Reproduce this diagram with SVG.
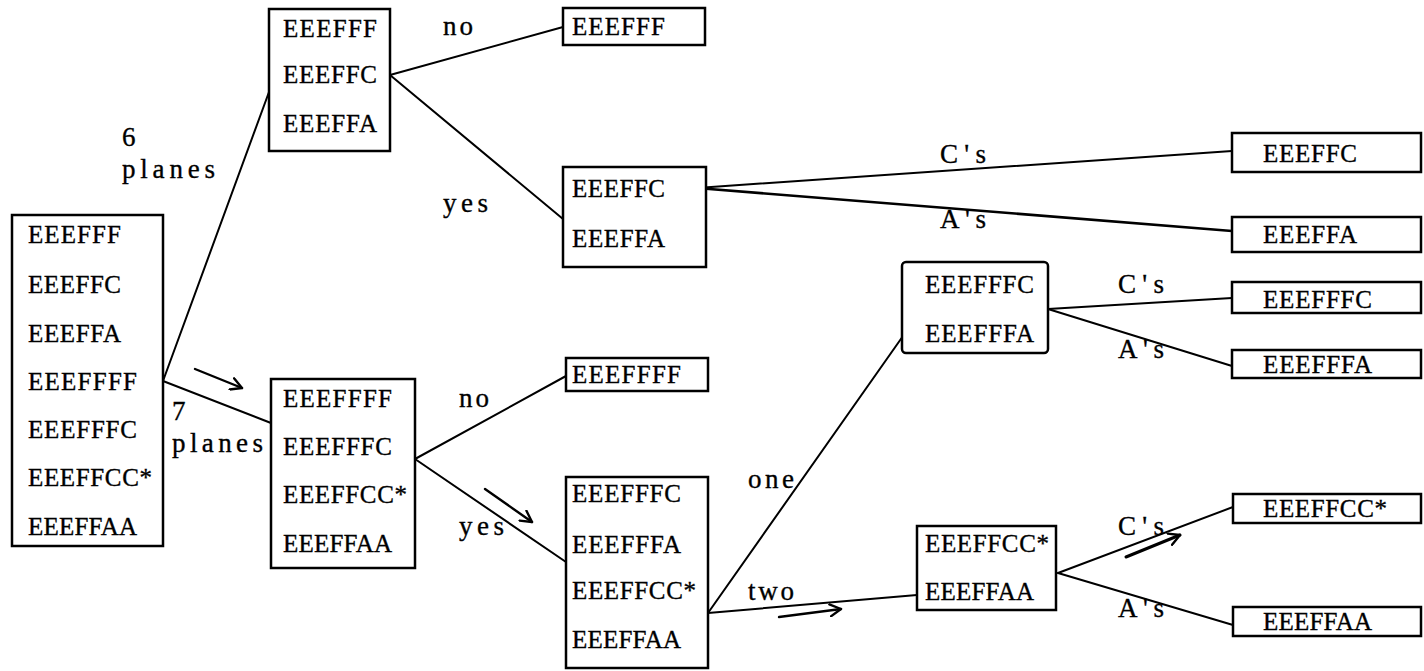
<svg xmlns="http://www.w3.org/2000/svg" width="1424" height="671" viewBox="0 0 1424 671">
  <style>
    .box { fill: #fff; stroke: #000; stroke-width: 2.5; }
    .t { font-family: "Liberation Serif", "Times New Roman", serif; font-size: 25px; fill: #000; stroke: #000; stroke-width: 0.35; }
    .lbl { font-size: 27px; }
    .edge { stroke: #000; stroke-width: 2; fill: none; stroke-linecap: round; }
    .flow { stroke: #000; stroke-width: 2.4; fill: none; stroke-linecap: round; stroke-linejoin: round; }
  </style>
  <defs>
    <marker id="vhead" viewBox="0 0 14 14" refX="12" refY="7" markerWidth="14" markerHeight="14" markerUnits="userSpaceOnUse" orient="auto">
      <path d="M1 1 L12 7 L1 13" fill="none" stroke="#000" stroke-width="2.4" stroke-linecap="round" stroke-linejoin="round"/>
    </marker>
  </defs>

  <rect width="1424" height="671" fill="#fff"/>

  <!-- connectors -->
  <g id="connectors">
    <line class="edge" x1="163" y1="381" x2="269" y2="92"/>
    <line class="edge" x1="163" y1="381" x2="271" y2="423"/>
    <line class="edge" x1="390" y1="75" x2="563" y2="27"/>
    <line class="edge" x1="390" y1="75" x2="563" y2="219"/>
    <path class="edge" d="M692 192 Q693 188 697 188 L1232 151"/>
    <line class="edge" x1="697" y1="188" x2="1232" y2="231" style="stroke-width:2.6"/>
    <line class="edge" x1="415" y1="459" x2="566" y2="376"/>
    <line class="edge" x1="415" y1="459" x2="566" y2="562"/>
    <line class="edge" x1="708" y1="613" x2="903" y2="336"/>
    <line class="edge" x1="708" y1="613" x2="917" y2="595"/>
    <line class="edge" x1="1048" y1="309" x2="1232" y2="298"/>
    <line class="edge" x1="1048" y1="309" x2="1232" y2="366"/>
    <line class="edge" x1="1058" y1="573" x2="1233" y2="507"/>
    <line class="edge" x1="1058" y1="573" x2="1233" y2="625"/>

    <!-- direction arrows -->
    <line class="flow" x1="195" y1="369" x2="242" y2="388" marker-end="url(#vhead)"/>
    <line class="flow" x1="485" y1="489" x2="532" y2="522" marker-end="url(#vhead)"/>
    <line class="flow" x1="779" y1="617" x2="841" y2="609" marker-end="url(#vhead)"/>
    <line class="flow" x1="1126" y1="557" x2="1180" y2="535" marker-end="url(#vhead)" style="stroke-width:3"/>

    <!-- branch labels -->
    <text class="t lbl" x="122" y="146">6</text>
    <text class="t lbl" x="122" y="178" textLength="93" lengthAdjust="spacing">planes</text>
    <text class="t lbl" x="172" y="420">7</text>
    <text class="t lbl" x="172" y="452" textLength="91" lengthAdjust="spacing">planes</text>
    <text class="t lbl" x="443" y="35" textLength="30" lengthAdjust="spacing">no</text>
    <text class="t lbl" x="443" y="212" textLength="45" lengthAdjust="spacing">yes</text>
    <text class="t lbl" x="459" y="407" textLength="30" lengthAdjust="spacing">no</text>
    <text class="t lbl" x="459" y="535" textLength="45" lengthAdjust="spacing">yes</text>
    <text class="t lbl" x="940" y="163" textLength="46" lengthAdjust="spacing">C's</text>
    <text class="t lbl" x="940" y="228" textLength="46" lengthAdjust="spacing">A's</text>
    <text class="t lbl" x="1118" y="293" textLength="46" lengthAdjust="spacing">C's</text>
    <text class="t lbl" x="1118" y="358" textLength="46" lengthAdjust="spacing">A's</text>
    <text class="t lbl" x="748" y="488" textLength="46" lengthAdjust="spacing">one</text>
    <text class="t lbl" x="748" y="600" textLength="46" lengthAdjust="spacing">two</text>
    <text class="t lbl" x="1118" y="535" textLength="46" lengthAdjust="spacing">C's</text>
    <text class="t lbl" x="1118" y="617" textLength="46" lengthAdjust="spacing">A's</text>
  </g>

  <!-- nodes -->
  <g id="n-root">
    <rect class="box" x="12" y="215" width="151" height="331"/>
    <text class="t" x="28" y="243" textLength="93" lengthAdjust="spacing">EEEFFF</text>
    <text class="t" x="28" y="293" textLength="93" lengthAdjust="spacing">EEEFFC</text>
    <text class="t" x="28" y="342" textLength="93" lengthAdjust="spacing">EEEFFA</text>
    <text class="t" x="28" y="390" textLength="109" lengthAdjust="spacing">EEEFFFF</text>
    <text class="t" x="28" y="438" textLength="109" lengthAdjust="spacing">EEEFFFC</text>
    <text class="t" x="28" y="486" textLength="124" lengthAdjust="spacing">EEEFFCC*</text>
    <text class="t" x="28" y="535" textLength="109" lengthAdjust="spacing">EEEFFAA</text>
  </g>

  <g id="n-six">
    <rect class="box" x="269" y="9" width="121" height="142"/>
    <text class="t" x="283" y="37" textLength="94" lengthAdjust="spacing">EEEFFF</text>
    <text class="t" x="283" y="83" textLength="94" lengthAdjust="spacing">EEEFFC</text>
    <text class="t" x="283" y="132" textLength="94" lengthAdjust="spacing">EEEFFA</text>
  </g>

  <g id="n-seven">
    <rect class="box" x="271" y="379" width="144" height="189"/>
    <text class="t" x="283" y="407" textLength="109" lengthAdjust="spacing">EEEFFFF</text>
    <text class="t" x="283" y="455" textLength="109" lengthAdjust="spacing">EEEFFFC</text>
    <text class="t" x="283" y="503" textLength="124" lengthAdjust="spacing">EEEFFCC*</text>
    <text class="t" x="283" y="552" textLength="109" lengthAdjust="spacing">EEEFFAA</text>
  </g>

  <g id="n-six-no">
    <rect class="box" x="563" y="8" width="142" height="37"/>
    <text class="t" x="572" y="35" textLength="93" lengthAdjust="spacing">EEEFFF</text>
  </g>

  <g id="n-six-yes">
    <rect class="box" x="563" y="167" width="143" height="100"/>
    <text class="t" x="572" y="197" textLength="93" lengthAdjust="spacing">EEEFFC</text>
    <text class="t" x="572" y="247" textLength="93" lengthAdjust="spacing">EEEFFA</text>
  </g>

  <g id="n-seven-no">
    <rect class="box" x="566" y="358" width="142" height="33"/>
    <text class="t" x="572" y="383" textLength="109" lengthAdjust="spacing">EEEFFFF</text>
  </g>

  <g id="n-seven-yes">
    <rect class="box" x="566" y="477" width="142" height="191"/>
    <text class="t" x="572" y="502" textLength="109" lengthAdjust="spacing">EEEFFFC</text>
    <text class="t" x="572" y="553" textLength="109" lengthAdjust="spacing">EEEFFFA</text>
    <text class="t" x="572" y="599" textLength="124" lengthAdjust="spacing">EEEFFCC*</text>
    <text class="t" x="572" y="648" textLength="109" lengthAdjust="spacing">EEEFFAA</text>
  </g>

  <g id="n-one">
    <rect class="box" x="902" y="262" width="146" height="91" rx="4"/>
    <text class="t" x="925" y="293" textLength="109" lengthAdjust="spacing">EEEFFFC</text>
    <text class="t" x="925" y="342" textLength="109" lengthAdjust="spacing">EEEFFFA</text>
  </g>

  <g id="n-two">
    <rect class="box" x="917" y="526" width="139" height="84"/>
    <text class="t" x="925" y="552" textLength="124" lengthAdjust="spacing">EEEFFCC*</text>
    <text class="t" x="925" y="600" textLength="109" lengthAdjust="spacing">EEEFFAA</text>
  </g>

  <g id="n-six-c">
    <rect class="box" x="1232" y="133" width="189" height="39"/>
    <text class="t" x="1263" y="162" textLength="94" lengthAdjust="spacing">EEEFFC</text>
  </g>

  <g id="n-six-a">
    <rect class="box" x="1232" y="217" width="189" height="35"/>
    <text class="t" x="1263" y="243" textLength="94" lengthAdjust="spacing">EEEFFA</text>
  </g>

  <g id="n-one-c">
    <rect class="box" x="1232" y="282" width="189" height="31"/>
    <text class="t" x="1263" y="308" textLength="109" lengthAdjust="spacing">EEEFFFC</text>
  </g>

  <g id="n-one-a">
    <rect class="box" x="1232" y="350" width="189" height="28"/>
    <text class="t" x="1263" y="373" textLength="109" lengthAdjust="spacing">EEEFFFA</text>
  </g>

  <g id="n-two-c">
    <rect class="box" x="1233" y="494" width="188" height="29"/>
    <text class="t" x="1263" y="517" textLength="124" lengthAdjust="spacing">EEEFFCC*</text>
  </g>

  <g id="n-two-a">
    <rect class="box" x="1233" y="607" width="188" height="29"/>
    <text class="t" x="1263" y="630" textLength="109" lengthAdjust="spacing">EEEFFAA</text>
  </g>
</svg>
